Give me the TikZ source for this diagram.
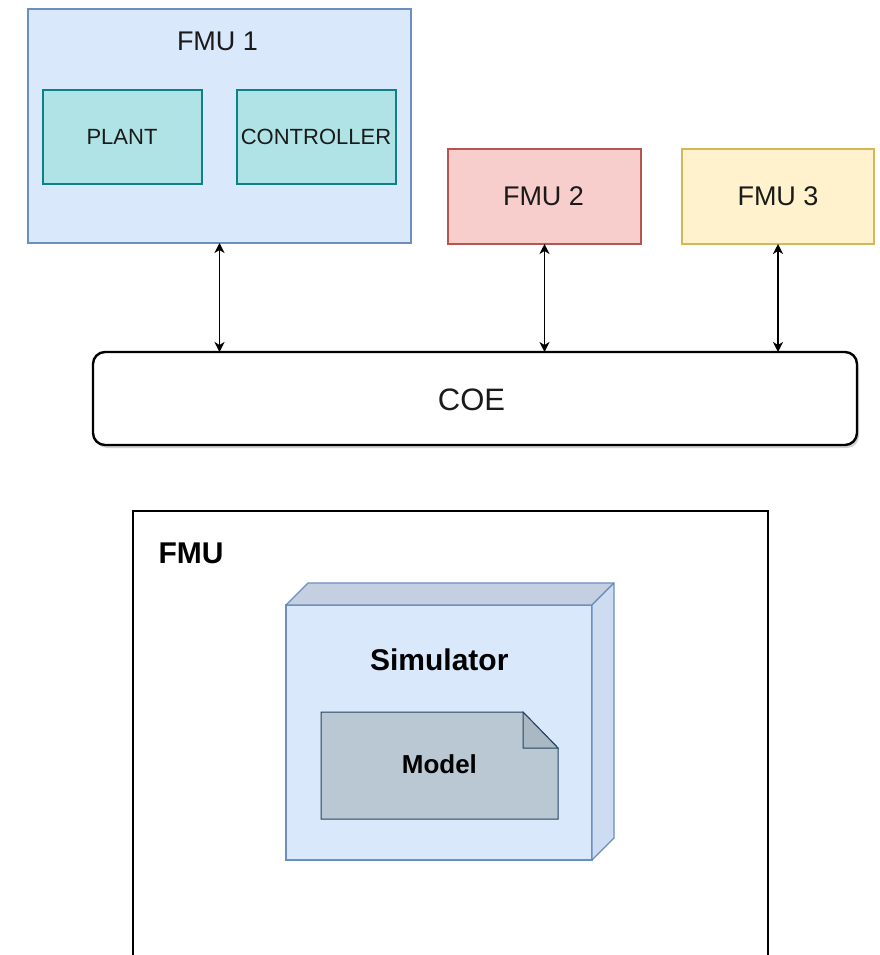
\documentclass[tikz,border=0pt]{standalone}
\usepackage{fontspec}
\setmainfont{Liberation Sans}
\usetikzlibrary{arrows.meta,shadows,calc}

\definecolor{bluefill}{HTML}{DAE8FC}
\definecolor{bluedraw}{HTML}{6C8EBF}
\definecolor{tealfill}{HTML}{B0E3E6}
\definecolor{tealdraw}{HTML}{0E8088}
\definecolor{redfill}{HTML}{F8CECC}
\definecolor{reddraw}{HTML}{B85450}
\definecolor{yellowfill}{HTML}{FFF2CC}
\definecolor{yellowdraw}{HTML}{D6B656}
\definecolor{cubetop}{HTML}{C4D0E2}
\definecolor{cubeside}{HTML}{CDDCF1}
\definecolor{notefill}{HTML}{BAC8D3}
\definecolor{notedraw}{HTML}{23445D}
\definecolor{notefold}{HTML}{AAB8C3}
\definecolor{labeltext}{HTML}{1A1A1A}

\tikzset{
  box/.style={draw, inner sep=0pt, outer sep=0pt},
  label27/.style={text=labeltext, font=\fontsize{27}{30}\selectfont, inner sep=0pt, anchor=base},
  label22/.style={text=labeltext, font=\fontsize{22}{25}\selectfont, inner sep=0pt, anchor=base},
  boldlabel/.style={text=black, font=\fontsize{#1}{#1}\selectfont\bfseries, inner sep=0pt, anchor=base},
  link/.style={line width=1.8pt, black, {Stealth[length=10pt,width=10pt,inset=3pt]}-{Stealth[length=10pt,width=10pt,inset=3pt]}},
}

\begin{document}
\begin{tikzpicture}[x=1pt, y=-1pt]
\useasboundingbox (0,0) rectangle (879,955);

% ---- co-simulation: FMUs around the COE ----
\node[box, fill=bluefill, draw=bluedraw, line width=2.4pt,
      minimum width=383pt, minimum height=234pt] (fmu1) at (219.5,126) {};
\node[label27] (fmu1lbl) at (217.5,50.7) {FMU 1};

\node[box, fill=tealfill, draw=tealdraw, line width=1.3pt,
      minimum width=159pt, minimum height=94pt] (plant) at (122.5,137) {};
\node[label22] (plantlbl) at (122,144) {PLANT};

\node[box, fill=tealfill, draw=tealdraw, line width=1.3pt,
      minimum width=159pt, minimum height=94pt] (ctrl) at (316.5,137) {};
\node[label22] (ctrllbl) at (316,144) {CONTROLLER};

\node[box, fill=redfill, draw=reddraw, line width=2.4pt,
      minimum width=193pt, minimum height=95pt] (fmu2) at (544.5,196.5) {};
\node[label27] (fmu2lbl) at (543.5,205) {FMU 2};

\node[box, fill=yellowfill, draw=yellowdraw, line width=2.4pt,
      minimum width=192pt, minimum height=95pt] (fmu3) at (778,196.5) {};
\node[label27] (fmu3lbl) at (778,205) {FMU 3};

\node[box, fill=white, draw=black, line width=2.4pt, rounded corners=12pt,
      minimum width=764pt, minimum height=93pt,
      drop shadow={shadow xshift=2pt, shadow yshift=-3pt, opacity=0.3, fill=black!60}]
      (coe) at (475,398.5) {};
\node[text=labeltext, font=\fontsize{31}{33}\selectfont, inner sep=0pt, anchor=base]
      (coelbl) at (471.5,410) {COE};

\draw[link] (fmu1.south) -- (fmu1.south |- coe.north);
\draw[link] (fmu2.south) -- (fmu2.south |- coe.north);
\draw[link] (fmu3.south) -- (fmu3.south |- coe.north);

% ---- structure of a single FMU ----
\draw[line width=1.2pt, black] (133,956) -- (133,511) -- (768,511) -- (768,956);
\node[boldlabel=30] (fmulbl) at (191,563) {FMU};

% simulator drawn as a 3D node (front face + top + side)
\node[box, fill=bluefill, draw=bluedraw, line width=1.2pt,
      minimum width=306pt, minimum height=255pt] (sim) at (439,732.5) {};
\draw[fill=cubetop, draw=bluedraw, line width=1.2pt, line join=round]
  (sim.north west) -- ++(22,-22) -- ++(306,0) -- (sim.north east) -- cycle;
\draw[fill=cubeside, draw=bluedraw, line width=1.2pt, line join=round]
  (sim.north east) -- ++(22,-22) -- ++(0,255) -- (sim.south east) -- cycle;
\node[boldlabel=30] (simlbl) at (439.3,670) {Simulator};

% model drawn as a note with a folded corner
\coordinate (mnw) at (321,712);
\coordinate (mse) at (558,819);
\draw[fill=notefill, draw=notedraw, line width=1pt]
  (mnw) -- (523,712) -- (558,748) -- (mse) -- (mnw |- mse) -- cycle;
\draw[fill=notefold, draw=notedraw, line width=1pt]
  (523,712) -- (523,748) -- (558,748) -- cycle;
\node[boldlabel=26] (modellbl) at (439.4,773) {Model};
\end{tikzpicture}
\end{document}
